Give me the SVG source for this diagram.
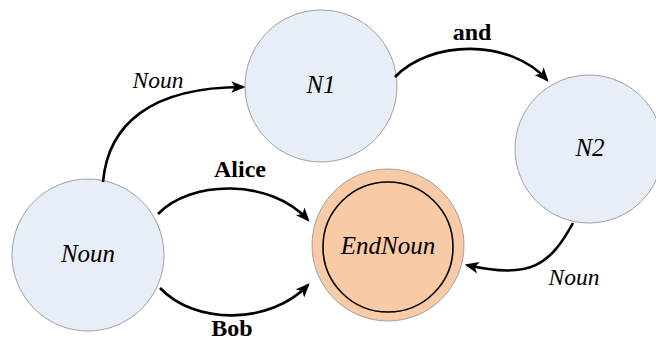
<svg xmlns="http://www.w3.org/2000/svg" width="656" height="341" viewBox="0 0 656 341">
<style>
.node{fill:#E8EEF7;stroke:#A0A0A0;stroke-width:1}
.final{fill:#F8CBA6;stroke:#A0A0A0;stroke-width:1}
.inner{fill:none;stroke:#000;stroke-width:1.6}
.nt{font-family:"Liberation Serif",serif;font-style:italic;font-size:25px;text-anchor:middle;fill:#000}
.el{font-family:"Liberation Serif",serif;font-style:italic;font-size:23.5px;text-anchor:middle;fill:#000}
.eb{font-family:"Liberation Serif",serif;font-weight:bold;font-size:24px;text-anchor:middle;fill:#000}
.edge{fill:none;stroke:#000;stroke-width:2.6;marker-end:url(#ah)}
</style>
<defs>
<marker id="ah" viewBox="0 0 12 10" refX="10" refY="5" markerWidth="5.4" markerHeight="4.8" orient="auto" markerUnits="strokeWidth">
<path d="M0,0 L12,5 L0,10 L3,5 Z" fill="#000"/>
</marker>
</defs>
<rect width="656" height="341" fill="#fff"/>
<g id="node-noun"><circle class="node" cx="88" cy="255" r="76"/><text class="nt" x="88" y="262">Noun</text></g>
<g id="node-n1"><circle class="node" cx="321" cy="86" r="76"/><text class="nt" x="321" y="93">N1</text></g>
<g id="node-n2"><circle class="node" cx="589" cy="149" r="74"/><text class="nt" x="590" y="156">N2</text></g>
<g id="node-endnoun"><circle class="final" cx="388" cy="245" r="76"/><circle class="inner" cx="388" cy="247" r="65"/><text class="nt" x="388" y="254">EndNoun</text></g>
<g id="connectors">
<path class="edge" d="M103,182 C108,125 150,87 243,87"/>
<path class="edge" d="M395,77 C430,40 510,38 547,80"/>
<path class="edge" d="M158,214 C190,180 270,178 308,220"/>
<path class="edge" d="M160,288 C195,325 270,325 308,285"/>
<path class="edge" d="M573,223 C550,265 530,280 467,265"/>
</g>
<g id="labels">
<text class="el" x="158" y="88">Noun</text>
<text class="eb" x="472" y="40">and</text>
<text class="eb" x="240" y="177">Alice</text>
<text class="eb" x="232" y="336">Bob</text>
<text class="el" x="574" y="285">Noun</text>
</g>
</svg>
